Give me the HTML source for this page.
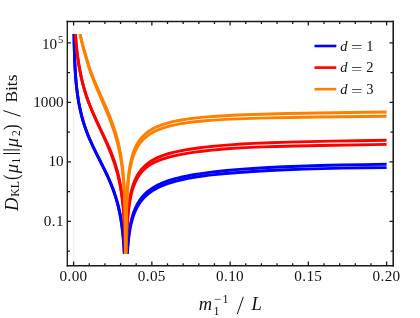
<!DOCTYPE html>
<html><head><meta charset="utf-8"><title>plot</title>
<style>
html,body{margin:0;padding:0;background:#fff}
#c{will-change:transform;position:relative;width:420px;height:318px;overflow:hidden;background:#fff;font-family:"Liberation Serif",serif;color:#111}
.t{position:absolute;white-space:nowrap;line-height:0;height:0}
.t.c{transform:translateX(-50%)}
.t.r{transform:translateX(-100%)}
</style></head><body><div id="c">
<svg width="420" height="318" viewBox="0 0 420 318" style="position:absolute;left:0;top:0"><line x1="73.75" y1="21.45" x2="73.75" y2="265.72" stroke="#eaeaea" stroke-width="1.0"/><clipPath id="cp"><rect x="60" y="33.95" width="327.2" height="219.89999999999998"/></clipPath><g clip-path="url(#cp)"><path d="M73.94 29.95 L74.20 44.59 L74.58 57.22 L75.06 67.84 L75.69 77.51 L76.06 81.85 L76.49 86.23 L76.99 90.65 L77.50 94.56 L78.09 98.51 L78.76 102.51 L79.43 105.99 L80.17 109.52 L81.01 113.16 L81.79 116.29 L82.66 119.50 L83.61 122.78 L84.67 126.12 L85.60 128.84 L86.60 131.58 L87.97 135.09 L90.47 140.97 L93.41 147.31 L96.40 153.38 L104.41 169.29 L106.32 173.25 L108.35 177.63 L110.50 182.58 L112.79 188.31 L114.40 192.74 L116.07 197.86 L116.93 200.76 L117.81 203.97 L118.70 207.56 L119.62 211.65 L120.55 216.40 L121.07 219.40 L121.75 223.77 L122.66 230.93 L123.11 235.17 L123.49 239.38 L124.10 247.71 L124.63 257.85" fill="none" stroke="#0000ff" stroke-width="2.9" stroke-linejoin="round" stroke-linecap="butt"/><path d="M126.96 257.85 L127.52 248.14 L127.93 243.00 L128.29 239.18 L128.71 235.38 L129.21 231.62 L129.79 227.90 L130.22 225.45 L130.72 222.97 L131.58 219.28 L132.43 216.14 L133.29 213.43 L134.15 211.05 L135.00 208.93 L135.86 207.03 L136.71 205.30 L137.57 203.72 L139.28 200.93 L140.14 199.68 L141.85 197.43 L142.70 196.41 L144.41 194.56 L146.13 192.90 L147.84 191.42 L149.55 190.08 L151.26 188.86 L152.97 187.75 L155.54 186.24 L158.11 184.90 L160.67 183.70 L163.24 182.62 L165.81 181.63 L168.38 180.74 L171.80 179.66 L175.22 178.69 L178.65 177.81 L182.07 177.00 L186.35 176.09 L190.63 175.27 L194.91 174.52 L199.18 173.84 L204.32 173.09 L209.45 172.41 L215.44 171.69 L226.57 170.52 L239.41 169.41 L253.10 168.44 L268.50 167.54 L283.91 166.78 L299.31 166.18 L319.85 165.54 L341.24 165.01 L363.49 164.59 L386.60 164.28" fill="none" stroke="#0000ff" stroke-width="2.9" stroke-linejoin="round" stroke-linecap="butt"/><path d="M73.94 29.95 L74.20 44.59 L74.58 57.22 L75.06 67.84 L75.69 77.51 L76.06 81.85 L76.49 86.23 L76.99 90.65 L77.50 94.56 L78.09 98.51 L78.76 102.51 L79.43 105.99 L80.17 109.52 L81.01 113.16 L81.79 116.29 L82.66 119.50 L83.61 122.78 L84.67 126.12 L85.60 128.84 L86.60 131.58 L87.97 135.10 L90.47 141.01 L93.41 147.41 L96.40 153.54 L103.79 168.32 L106.32 173.58 L108.35 178.02 L110.50 183.05 L112.79 188.89 L114.40 193.41 L116.07 198.66 L116.93 201.64 L117.81 204.94 L118.70 208.63 L119.62 212.83 L120.55 217.73 L121.53 223.84 L122.50 231.28 L123.25 238.61 L123.92 247.29 L124.52 257.85" fill="none" stroke="#0000ff" stroke-width="2.9" stroke-linejoin="round" stroke-linecap="butt"/><path d="M127.10 257.85 L127.71 248.35 L128.42 240.69 L128.87 236.90 L129.39 233.15 L130.00 229.44 L130.46 226.99 L131.58 222.02 L132.43 218.88 L133.29 216.17 L134.15 213.78 L135.00 211.65 L135.86 209.74 L136.71 208.01 L137.57 206.43 L138.42 204.97 L140.14 202.38 L140.99 201.21 L142.70 199.11 L144.41 197.25 L146.13 195.59 L147.84 194.11 L149.55 192.76 L151.26 191.53 L152.97 190.41 L154.68 189.38 L157.25 187.98 L159.82 186.72 L162.39 185.59 L164.95 184.57 L167.52 183.63 L170.09 182.78 L173.51 181.76 L176.93 180.83 L180.36 180.00 L183.78 179.23 L188.06 178.37 L195.76 177.04 L204.32 175.80 L209.45 175.15 L214.59 174.57 L225.71 173.47 L238.55 172.43 L253.10 171.45 L269.36 170.55 L286.47 169.76 L303.59 169.13 L322.42 168.59 L342.10 168.16 L363.49 167.82 L386.60 167.58" fill="none" stroke="#0000ff" stroke-width="2.9" stroke-linejoin="round" stroke-linecap="butt"/><path d="M75.14 29.95 L75.74 38.82 L76.49 47.21 L77.35 54.69 L78.46 62.46 L79.79 70.12 L81.16 76.86 L81.96 80.35 L82.84 83.92 L83.82 87.58 L84.67 90.55 L86.34 95.86 L87.97 100.52 L89.81 105.28 L91.88 110.28 L93.81 114.69 L96.40 120.34 L106.98 142.75 L109.05 147.38 L111.25 152.65 L112.79 156.67 L113.59 158.89 L115.22 163.81 L116.93 169.56 L117.81 172.86 L118.70 176.55 L119.62 180.72 L120.55 185.56 L121.53 191.57 L122.14 195.96 L122.66 200.29 L123.11 204.57 L123.49 208.81 L124.18 218.58 L124.72 229.59 L125.11 241.86 L125.41 257.85" fill="none" stroke="#ff0000" stroke-width="2.9" stroke-linejoin="round" stroke-linecap="butt"/><path d="M126.14 257.85 L126.39 244.86 L126.76 233.04 L127.27 222.64 L127.61 217.50 L127.93 213.67 L128.29 209.87 L128.71 206.11 L129.21 202.39 L129.79 198.71 L130.72 193.84 L131.58 190.21 L132.43 187.13 L133.29 184.48 L134.15 182.15 L135.00 180.09 L135.86 178.24 L136.71 176.57 L137.57 175.05 L139.28 172.37 L140.14 171.17 L141.85 169.03 L143.56 167.17 L145.27 165.52 L146.98 164.06 L148.69 162.75 L150.41 161.57 L152.97 160.00 L155.54 158.63 L158.11 157.42 L160.67 156.34 L164.10 155.08 L166.67 154.24 L170.09 153.24 L173.51 152.36 L176.93 151.58 L181.21 150.70 L185.49 149.92 L189.77 149.21 L194.91 148.45 L200.04 147.77 L205.18 147.15 L211.17 146.50 L217.16 145.91 L229.99 144.83 L241.97 144.03 L253.95 143.39 L270.21 142.73 L288.19 142.14 L308.72 141.61 L331.83 141.12 L357.50 140.68 L386.60 140.29" fill="none" stroke="#ff0000" stroke-width="2.9" stroke-linejoin="round" stroke-linecap="butt"/><path d="M75.14 29.95 L75.74 38.82 L76.43 46.65 L77.27 54.10 L78.37 61.83 L79.66 69.41 L81.01 76.08 L81.79 79.54 L82.66 83.08 L84.45 89.67 L86.09 94.99 L87.69 99.69 L89.49 104.52 L91.52 109.58 L93.41 114.05 L95.50 118.80 L103.19 135.56 L106.32 142.51 L109.05 148.92 L111.25 154.45 L113.59 160.88 L115.22 165.89 L116.93 171.74 L117.81 175.09 L118.70 178.84 L119.62 183.08 L120.55 188.00 L121.53 194.11 L122.14 198.57 L122.66 202.97 L123.11 207.32 L123.49 211.63 L124.18 221.56 L124.67 231.37 L125.08 243.86 L125.36 257.85" fill="none" stroke="#ff0000" stroke-width="2.9" stroke-linejoin="round" stroke-linecap="butt"/><path d="M126.19 257.85 L126.49 243.89 L126.93 232.10 L127.19 226.90 L127.52 221.74 L127.93 216.62 L128.29 212.81 L128.71 209.03 L129.21 205.30 L129.79 201.60 L130.22 199.17 L130.72 196.71 L131.58 193.05 L132.43 189.96 L133.29 187.29 L134.15 184.95 L135.00 182.88 L135.86 181.02 L136.71 179.35 L137.57 177.82 L138.42 176.43 L140.14 173.97 L140.99 172.88 L142.70 170.92 L144.41 169.22 L146.13 167.71 L147.84 166.38 L149.55 165.18 L151.26 164.11 L152.97 163.14 L154.68 162.25 L157.25 161.07 L159.82 160.03 L162.39 159.10 L165.81 158.01 L168.38 157.29 L171.80 156.44 L177.79 155.09 L181.21 154.40 L185.49 153.61 L189.77 152.91 L194.91 152.14 L200.04 151.46 L206.03 150.74 L212.02 150.10 L218.01 149.53 L229.99 148.55 L240.26 147.88 L250.53 147.35 L262.51 146.89 L276.20 146.48 L295.89 146.01 L319.85 145.52 L386.60 144.39" fill="none" stroke="#ff0000" stroke-width="2.9" stroke-linejoin="round" stroke-linecap="butt"/><path d="M79.31 29.95 L80.17 34.29 L81.01 38.11 L81.96 42.06 L83.03 46.15 L84.90 52.68 L88.56 64.87 L89.81 68.79 L90.81 71.59 L92.25 75.37 L95.50 83.44 L99.32 92.34 L105.03 105.18 L106.98 109.66 L109.77 116.40 L112.01 122.26 L113.59 126.70 L114.40 129.13 L116.07 134.54 L116.93 137.60 L117.81 140.96 L118.70 144.70 L119.62 148.93 L120.55 153.84 L121.31 158.42 L121.95 162.87 L122.50 167.25 L122.97 171.58 L123.49 177.28 L123.92 182.91 L124.26 188.49 L124.55 194.02 L124.82 200.89 L125.23 215.87 L125.51 234.78 L125.66 257.85" fill="none" stroke="#ff8000" stroke-width="2.9" stroke-linejoin="round" stroke-linecap="butt"/><path d="M125.87 257.85 L126.01 236.73 L126.22 220.80 L126.53 207.62 L126.99 195.85 L127.52 186.82 L127.93 181.71 L128.29 177.91 L128.71 174.16 L129.21 170.44 L129.79 166.76 L130.46 163.14 L131.58 158.27 L132.43 155.21 L133.29 152.56 L134.15 150.25 L135.00 148.20 L135.86 146.37 L136.71 144.71 L137.57 143.21 L138.42 141.84 L139.28 140.58 L140.99 138.35 L142.70 136.42 L144.41 134.73 L146.13 133.24 L147.84 131.91 L149.55 130.72 L152.12 129.15 L154.68 127.79 L157.25 126.60 L159.82 125.54 L162.39 124.61 L164.95 123.77 L168.38 122.79 L171.80 121.93 L175.22 121.16 L178.65 120.49 L182.92 119.74 L187.20 119.09 L191.48 118.52 L196.62 117.92 L201.75 117.39 L206.89 116.93 L212.88 116.45 L224.86 115.68 L237.69 115.04 L253.10 114.44 L270.21 113.94 L286.47 113.57 L304.45 113.25 L349.80 112.54 L386.60 112.02" fill="none" stroke="#ff8000" stroke-width="2.9" stroke-linejoin="round" stroke-linecap="butt"/><path d="M79.27 29.95 L80.04 33.99 L81.01 38.62 L81.96 42.72 L83.03 46.97 L85.12 54.52 L88.56 66.33 L89.81 70.34 L90.81 73.22 L92.25 77.10 L95.07 84.24 L98.30 92.00 L106.32 110.67 L109.05 117.42 L111.25 123.22 L113.59 129.92 L115.22 135.09 L116.07 137.97 L117.81 144.49 L118.70 148.27 L119.62 152.53 L120.55 157.44 L121.31 162.02 L121.95 166.47 L122.50 170.85 L122.97 175.18 L123.49 180.88 L123.92 186.51 L124.26 192.09 L124.55 197.62 L124.82 204.49 L125.21 218.11 L125.48 235.68 L125.64 257.85" fill="none" stroke="#ff8000" stroke-width="2.9" stroke-linejoin="round" stroke-linecap="butt"/><path d="M125.89 257.85 L126.04 237.67 L126.27 221.76 L126.62 208.59 L127.05 198.16 L127.61 189.13 L128.04 184.04 L128.42 180.26 L128.87 176.51 L129.39 172.81 L130.00 169.15 L130.72 165.50 L131.58 161.87 L132.43 158.81 L133.29 156.16 L134.15 153.85 L135.00 151.80 L135.86 149.97 L136.71 148.31 L137.57 146.81 L138.42 145.44 L139.28 144.18 L140.99 141.95 L142.70 140.02 L144.41 138.33 L146.13 136.84 L148.69 134.90 L150.41 133.77 L152.97 132.28 L155.54 130.97 L158.11 129.83 L160.67 128.82 L163.24 127.92 L165.81 127.11 L169.23 126.16 L172.66 125.33 L176.08 124.59 L179.50 123.93 L183.78 123.21 L188.06 122.58 L192.34 122.03 L197.47 121.45 L202.61 120.96 L207.74 120.52 L213.73 120.08 L224.86 119.42 L237.69 118.83 L252.24 118.34 L269.36 117.90 L290.75 117.48 L317.28 117.06 L386.60 116.22" fill="none" stroke="#ff8000" stroke-width="2.9" stroke-linejoin="round" stroke-linecap="butt"/></g><path d="M73.60 265.72v-4.1M73.60 21.45v4.1M89.25 265.72v-2.5M89.25 21.45v2.5M104.90 265.72v-2.5M104.90 21.45v2.5M120.55 265.72v-2.5M120.55 21.45v2.5M136.20 265.72v-2.5M136.20 21.45v2.5M151.85 265.72v-4.1M151.85 21.45v4.1M167.50 265.72v-2.5M167.50 21.45v2.5M183.15 265.72v-2.5M183.15 21.45v2.5M198.80 265.72v-2.5M198.80 21.45v2.5M214.45 265.72v-2.5M214.45 21.45v2.5M230.10 265.72v-4.1M230.10 21.45v4.1M245.75 265.72v-2.5M245.75 21.45v2.5M261.40 265.72v-2.5M261.40 21.45v2.5M277.05 265.72v-2.5M277.05 21.45v2.5M292.70 265.72v-2.5M292.70 21.45v2.5M308.35 265.72v-4.1M308.35 21.45v4.1M324.00 265.72v-2.5M324.00 21.45v2.5M339.65 265.72v-2.5M339.65 21.45v2.5M355.30 265.72v-2.5M355.30 21.45v2.5M370.95 265.72v-2.5M370.95 21.45v2.5M386.60 265.72v-4.1M386.60 21.45v4.1M67.33 251.03h2.65M393.22 251.03h-2.65M67.33 221.29h3.7M393.22 221.29h-3.7M67.33 191.55h2.65M393.22 191.55h-2.65M67.33 161.81h3.7M393.22 161.81h-3.7M67.33 132.07h2.65M393.22 132.07h-2.65M67.33 102.33h3.7M393.22 102.33h-3.7M67.33 72.59h2.65M393.22 72.59h-2.65M67.33 42.85h3.7M393.22 42.85h-3.7" stroke="#1a1a1a" stroke-width="1.3" fill="none"/><path d="M67.33 20.7V266.545" stroke="#1a1a1a" stroke-width="1.4"/><path d="M393.22 20.7V266.545" stroke="#1a1a1a" stroke-width="1.55"/><path d="M66.63 21.45H393.995" stroke="#1a1a1a" stroke-width="1.5"/><path d="M66.63 265.72H393.995" stroke="#1a1a1a" stroke-width="1.65"/><line x1="314.5" y1="46" x2="336.3" y2="46" stroke="#0000ff" stroke-width="2.6"/><line x1="314.5" y1="67.6" x2="336.3" y2="67.6" stroke="#ff0000" stroke-width="2.6"/><line x1="314.5" y1="89.2" x2="336.3" y2="89.2" stroke="#ff8000" stroke-width="2.6"/><line x1="3.2" y1="153.5" x2="20.0" y2="153.5" stroke="#111" stroke-width="1.0"/><line x1="3.2" y1="149.9" x2="20.0" y2="149.9" stroke="#111" stroke-width="1.0"/><line x1="20.6" y1="116.2" x2="3.3" y2="110.6" stroke="#111" stroke-width="1.0"/><line x1="237.3" y1="314.2" x2="243.3" y2="296.8" stroke="#111" stroke-width="1.0"/></svg>
<span class="t" style="transform:translate(-50%,0.62px);left:73.25px;top:275px;font-size:15.2px;letter-spacing:0px">0<span style="margin:0 0.45px">.</span>00</span><span class="t" style="transform:translate(-50%,0.62px);left:151.50px;top:275px;font-size:15.2px;letter-spacing:0px">0<span style="margin:0 0.45px">.</span>05</span><span class="t" style="transform:translate(-50%,0.62px);left:229.75px;top:275px;font-size:15.2px;letter-spacing:0px">0<span style="margin:0 0.45px">.</span>10</span><span class="t" style="transform:translate(-50%,0.62px);left:308.00px;top:275px;font-size:15.2px;letter-spacing:0px">0<span style="margin:0 0.45px">.</span>15</span><span class="t" style="transform:translate(-50%,0.62px);left:386.25px;top:275px;font-size:15.2px;letter-spacing:0px">0<span style="margin:0 0.45px">.</span>20</span><span class="t r" style="left:63.6px;top:101.70px;font-size:15.2px;letter-spacing:0px">1000</span><span class="t r" style="left:63.6px;top:161.18px;font-size:15.2px;letter-spacing:0px">10</span><span class="t r" style="left:63.6px;top:220.66px;font-size:15.2px;letter-spacing:0px">0<span style="margin:0 0.45px">.</span>1</span><span class="t r" style="left:57.1px;top:44.17px;font-size:15.2px;letter-spacing:0px">10</span><span class="t" style="left:58.1px;top:39.86px;font-size:10.5px">5</span><span class="t" style="left:340.3px;top:45.81px;font-size:14.5px;font-style:italic;">d</span><span class="t" style="left:350.7px;top:47.31px;font-size:14.5px;transform:scaleX(1.4);transform-origin:0 0;">=</span><span class="t" style="left:366.2px;top:45.81px;font-size:14.5px;">1</span><span class="t" style="left:340.3px;top:67.41px;font-size:14.5px;font-style:italic;">d</span><span class="t" style="left:350.7px;top:68.91px;font-size:14.5px;transform:scaleX(1.4);transform-origin:0 0;">=</span><span class="t" style="left:366.2px;top:67.41px;font-size:14.5px;">2</span><span class="t" style="left:340.3px;top:89.01px;font-size:14.5px;font-style:italic;">d</span><span class="t" style="left:350.7px;top:90.51px;font-size:14.5px;transform:scaleX(1.4);transform-origin:0 0;">=</span><span class="t" style="left:366.2px;top:89.01px;font-size:14.5px;">3</span><span class="t" style="left:198.7px;top:303.76px;font-size:18.5px;font-style:italic;transform:scaleX(1.0);transform-origin:0 0;">m</span><span class="t" style="left:213.6px;top:310.85px;font-size:12px;">1</span><span class="t" style="left:213.9px;top:298.55px;font-size:12px;transform:scaleX(1.1);transform-origin:0 0;">&#8722;</span><span class="t" style="left:222.6px;top:298.55px;font-size:12px;">1</span><span class="t" style="left:251.4px;top:303.76px;font-size:18.5px;font-style:italic;">L</span><div style="position:absolute;left:17.5px;top:211.2px;width:0;height:0;transform:rotate(-90deg);transform-origin:0 0"><span class="t" style="left:0px;top:-6.24px;font-size:18.5px;font-style:italic">D</span><span class="t" style="left:14.3px;top:-3.28px;font-size:11.8px;">KL</span><span class="t" style="left:30.8px;top:-7.29px;font-size:21px;transform:scaleX(0.8);transform-origin:0 0">(</span><span class="t" style="left:37.7px;top:-6.24px;font-size:18.5px;font-style:italic">&#956;</span><span class="t" style="left:47.6px;top:-1.78px;font-size:11.5px;">1</span><span class="t" style="left:63.7px;top:-6.24px;font-size:18.5px;font-style:italic">&#956;</span><span class="t" style="left:75.0px;top:-2.38px;font-size:11.5px;">2</span><span class="t" style="left:81.1px;top:-7.49px;font-size:21px;transform:scaleX(0.8);transform-origin:0 0">)</span><span class="t" style="left:108.4px;top:-6.67px;font-size:17.4px;">Bits</span></div>
</div></body></html>
